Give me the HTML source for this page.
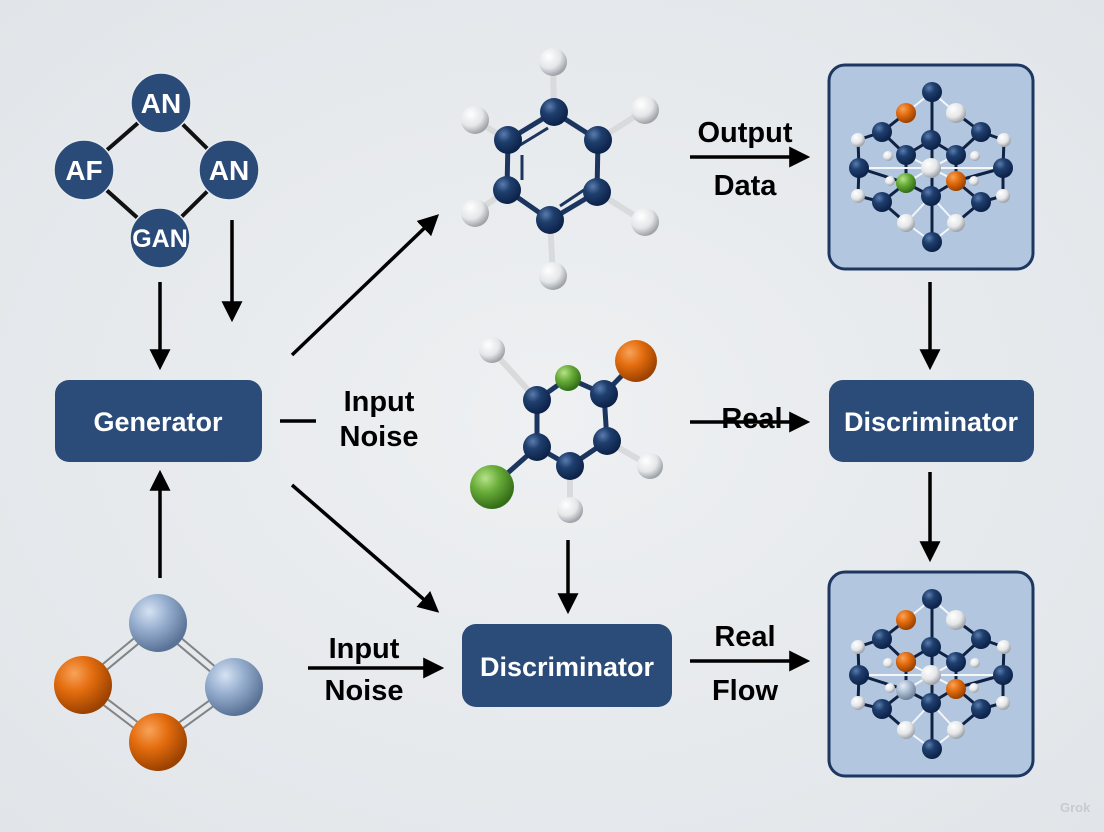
<!DOCTYPE html>
<html><head><meta charset="utf-8"><style>
html,body{margin:0;padding:0;width:1104px;height:832px;overflow:hidden;background:#e9ecef;}
svg{display:block}
text{font-family:"Liberation Sans",sans-serif;font-weight:bold;}
</style></head><body>
<svg width="1104" height="832" viewBox="0 0 1104 832" xmlns="http://www.w3.org/2000/svg">
<defs>
<radialGradient id="bg" cx="50%" cy="50%" r="70%"><stop offset="0" stop-color="#eef0f2"/><stop offset="1" stop-color="#e1e5e9"/></radialGradient>
<radialGradient id="gD" cx="35%" cy="30%" r="70%"><stop offset="0" stop-color="#5a7cae"/><stop offset="0.4" stop-color="#1f3f6e"/><stop offset="1" stop-color="#0c2248"/></radialGradient>
<radialGradient id="gW" cx="35%" cy="30%" r="70%"><stop offset="0" stop-color="#ffffff"/><stop offset="0.6" stop-color="#e4e6e8"/><stop offset="1" stop-color="#9ea3a8"/></radialGradient>
<radialGradient id="gO" cx="35%" cy="30%" r="70%"><stop offset="0" stop-color="#f7a35a"/><stop offset="0.45" stop-color="#e46d0f"/><stop offset="1" stop-color="#9c4200"/></radialGradient>
<radialGradient id="gG" cx="35%" cy="30%" r="70%"><stop offset="0" stop-color="#b6e28a"/><stop offset="0.45" stop-color="#6aae3a"/><stop offset="1" stop-color="#336d18"/></radialGradient>
<radialGradient id="gB" cx="35%" cy="30%" r="70%"><stop offset="0" stop-color="#d6e2f2"/><stop offset="0.45" stop-color="#98b0d0"/><stop offset="1" stop-color="#5a7296"/></radialGradient>
<radialGradient id="gS" cx="35%" cy="30%" r="70%"><stop offset="0" stop-color="#e6eef6"/><stop offset="0.5" stop-color="#a9bbcf"/><stop offset="1" stop-color="#6f8299"/></radialGradient>
<marker id="ah" viewBox="0 0 10 10" refX="8" refY="5" markerWidth="6" markerHeight="6" orient="auto" markerUnits="strokeWidth"><path d="M0,0 L10,5 L0,10 z" fill="#000"/></marker>
<g id="crys">
 <g stroke="#0f2244" stroke-width="3" fill="none">
  <line x1="1" y1="-75" x2="1" y2="75"/>
  <polyline points="-49,-35 -73,-27 -72,1 -73,29 -49,35"/>
  <polyline points="50,-35 73,-27 72,1 72,29 50,35"/>
  <line x1="-25" y1="-54" x2="-49" y2="-35"/><line x1="25" y1="-54" x2="50" y2="-35"/>
  <line x1="-49" y1="-35" x2="-25" y2="-12"/><line x1="50" y1="-35" x2="25" y2="-12"/>
  <line x1="0" y1="-27" x2="-25" y2="-12"/><line x1="0" y1="-27" x2="25" y2="-12"/>
  <line x1="-25" y1="-12" x2="-25" y2="16"/><line x1="25" y1="-12" x2="25" y2="14"/>
  <line x1="-72" y1="1" x2="-25" y2="16"/><line x1="72" y1="1" x2="25" y2="14"/>
  <line x1="-25" y1="16" x2="0" y2="29"/><line x1="25" y1="14" x2="0" y2="29"/>
  <line x1="-25" y1="16" x2="-49" y2="35"/><line x1="25" y1="14" x2="50" y2="35"/>
  <line x1="-49" y1="35" x2="-25" y2="56"/><line x1="50" y1="35" x2="25" y2="56"/>
 </g>
 <g stroke="#f4f6f8" stroke-width="2">
  <line x1="1" y1="-75" x2="-25" y2="-54"/><line x1="1" y1="-75" x2="25" y2="-54"/>
  <line x1="-25" y1="56" x2="1" y2="75"/><line x1="25" y1="56" x2="1" y2="75"/>
  <line x1="0" y1="1" x2="-25" y2="16"/><line x1="0" y1="1" x2="25" y2="14"/>
  <line x1="0" y1="1" x2="-25" y2="-12"/><line x1="0" y1="1" x2="25" y2="-12"/>
  <line x1="0" y1="1" x2="-72" y2="1"/><line x1="0" y1="1" x2="72" y2="1"/>
  <line x1="0" y1="29" x2="-25" y2="56"/><line x1="0" y1="29" x2="25" y2="56"/>
 </g>
 <circle cx="1" cy="-75" r="10" fill="url(#gD)"/>
 <circle cx="25" cy="-54" r="10" fill="url(#gW)"/>
 <circle cx="-49" cy="-35" r="10" fill="url(#gD)"/><circle cx="0" cy="-27" r="10" fill="url(#gD)"/><circle cx="50" cy="-35" r="10" fill="url(#gD)"/>
 <circle cx="-73" cy="-27" r="7" fill="url(#gW)"/><circle cx="73" cy="-27" r="7" fill="url(#gW)"/>
 <circle cx="-25" cy="-12" r="10" fill="url(#gD)"/><circle cx="25" cy="-12" r="10" fill="url(#gD)"/>
 <circle cx="-43" cy="-11" r="5" fill="url(#gW)"/><circle cx="44" cy="-11" r="5" fill="url(#gW)"/>
 <circle cx="-72" cy="1" r="10" fill="url(#gD)"/><circle cx="72" cy="1" r="10" fill="url(#gD)"/>
 <circle cx="0" cy="1" r="10" fill="url(#gW)"/>
 <circle cx="-41" cy="14" r="5" fill="url(#gW)"/><circle cx="43" cy="14" r="5" fill="url(#gW)"/>
 <circle cx="-73" cy="29" r="7" fill="url(#gW)"/><circle cx="72" cy="29" r="7" fill="url(#gW)"/>
 <circle cx="-49" cy="35" r="10" fill="url(#gD)"/><circle cx="0" cy="29" r="10" fill="url(#gD)"/><circle cx="50" cy="35" r="10" fill="url(#gD)"/>
 <circle cx="-25" cy="56" r="9" fill="url(#gW)"/><circle cx="25" cy="56" r="9" fill="url(#gW)"/>
 <circle cx="1" cy="75" r="10" fill="url(#gD)"/>
</g>
</defs>
<rect width="1104" height="832" fill="url(#bg)"/>

<g stroke="#111" stroke-width="4">
<line x1="161" y1="103" x2="84" y2="170"/><line x1="161" y1="103" x2="229" y2="170"/>
<line x1="84" y1="170" x2="160" y2="238"/><line x1="229" y1="170" x2="160" y2="238"/>
</g>
<g fill="#2a4a78" stroke="#e9ecef" stroke-width="1.5">
<circle cx="161" cy="103" r="30"/><circle cx="84" cy="170" r="30"/><circle cx="229" cy="170" r="30"/><circle cx="160" cy="238" r="30"/>
</g>
<g fill="#fff" text-anchor="middle" font-size="28">
<text x="161" y="113">AN</text><text x="84" y="180">AF</text><text x="229" y="180">AN</text><text x="160" y="247" font-size="25">GAN</text>
</g>

<g stroke="#000" stroke-width="3.5" fill="none" marker-end="url(#ah)">
<line x1="160" y1="282" x2="160" y2="366"/>
<line x1="232" y1="220" x2="232" y2="318"/>
<line x1="160" y1="578" x2="160" y2="474"/>
<line x1="292" y1="355" x2="436" y2="217"/>
<line x1="292" y1="485" x2="436" y2="610"/>
<line x1="690" y1="157" x2="806" y2="157"/>
<line x1="930" y1="282" x2="930" y2="366"/>
<line x1="690" y1="422" x2="806" y2="422"/>
<line x1="930" y1="472" x2="930" y2="558"/>
<line x1="568" y1="540" x2="568" y2="610"/>
<line x1="308" y1="668" x2="440" y2="668"/>
<line x1="690" y1="661" x2="806" y2="661"/>
</g>
<line x1="280" y1="421" x2="316" y2="421" stroke="#000" stroke-width="3.5"/>

<rect x="55" y="380" width="207" height="82" rx="14" fill="#2b4b79"/>
<text x="158" y="431" fill="#fff" font-size="27" text-anchor="middle">Generator</text>
<rect x="829" y="380" width="205" height="82" rx="14" fill="#2b4b79"/>
<text x="931" y="431" fill="#fff" font-size="27" text-anchor="middle">Discriminator</text>
<rect x="462" y="624" width="210" height="83" rx="14" fill="#2b4b79"/>
<text x="567" y="676" fill="#fff" font-size="27" text-anchor="middle">Discriminator</text>

<g fill="#000" font-size="29" text-anchor="middle">
<text x="379" y="411">Input</text><text x="379" y="446">Noise</text>
<text x="745" y="142">Output</text><text x="745" y="195">Data</text>
<text x="752" y="428">Real</text>
<text x="745" y="646">Real</text><text x="745" y="700">Flow</text>
<text x="364" y="658">Input</text><text x="364" y="700">Noise</text>
</g>

<rect x="829" y="65" width="204" height="204" rx="16" fill="#b3c6e0" stroke="#1d3761" stroke-width="3"/>
<use href="#crys" transform="translate(931,167)"/>
<circle cx="906" cy="113" r="10" fill="url(#gO)"/><circle cx="906" cy="183" r="10" fill="url(#gG)"/><circle cx="956" cy="181" r="10" fill="url(#gO)"/>
<rect x="829" y="572" width="204" height="204" rx="16" fill="#b3c6e0" stroke="#1d3761" stroke-width="3"/>
<use href="#crys" transform="translate(931,674)"/>
<circle cx="906" cy="620" r="10" fill="url(#gO)"/><circle cx="906" cy="662" r="10" fill="url(#gO)"/><circle cx="906" cy="690" r="10" fill="url(#gS)"/><circle cx="956" cy="689" r="10" fill="url(#gO)"/>

<g stroke="#d8dadc" stroke-width="6">
<line x1="554" y1="112" x2="553" y2="62"/><line x1="598" y1="140" x2="645" y2="110"/><line x1="597" y1="192" x2="645" y2="222"/>
<line x1="550" y1="220" x2="553" y2="276"/><line x1="507" y1="190" x2="475" y2="213"/><line x1="508" y1="140" x2="475" y2="120"/>
</g>
<g stroke="#1b355e" stroke-width="5" fill="none">
<polygon points="554,112 598,140 597,192 550,220 507,190 508,140"/>
</g>
<g stroke="#1b355e" stroke-width="3">
<line x1="522" y1="155" x2="522" y2="180"/><line x1="548" y1="128" x2="512" y2="150" /><line x1="560" y1="206" x2="590" y2="186"/>
</g>
<g>
<circle cx="553" cy="62" r="14" fill="url(#gW)"/><circle cx="645" cy="110" r="14" fill="url(#gW)"/><circle cx="645" cy="222" r="14" fill="url(#gW)"/>
<circle cx="553" cy="276" r="14" fill="url(#gW)"/><circle cx="475" cy="213" r="14" fill="url(#gW)"/><circle cx="475" cy="120" r="14" fill="url(#gW)"/>
<circle cx="554" cy="112" r="14" fill="url(#gD)"/><circle cx="598" cy="140" r="14" fill="url(#gD)"/><circle cx="597" cy="192" r="14" fill="url(#gD)"/>
<circle cx="550" cy="220" r="14" fill="url(#gD)"/><circle cx="507" cy="190" r="14" fill="url(#gD)"/><circle cx="508" cy="140" r="14" fill="url(#gD)"/>
</g>

<g stroke="#d8dadc" stroke-width="6">
<line x1="537" y1="400" x2="492" y2="350"/><line x1="607" y1="441" x2="650" y2="466"/><line x1="570" y1="466" x2="570" y2="510"/>
</g>
<g stroke="#1b355e" stroke-width="5" fill="none">
<polygon points="537,400 568,378 604,394 607,441 570,466 537,447"/>
<line x1="604" y1="394" x2="636" y2="361"/><line x1="537" y1="447" x2="492" y2="487"/>
</g>
<circle cx="492" cy="350" r="13" fill="url(#gW)"/><circle cx="650" cy="466" r="13" fill="url(#gW)"/><circle cx="570" cy="510" r="13" fill="url(#gW)"/>
<circle cx="636" cy="361" r="21" fill="url(#gO)"/><circle cx="492" cy="487" r="22" fill="url(#gG)"/>
<circle cx="568" cy="378" r="13" fill="url(#gG)"/>
<circle cx="537" cy="400" r="14" fill="url(#gD)"/><circle cx="604" cy="394" r="14" fill="url(#gD)"/><circle cx="607" cy="441" r="14" fill="url(#gD)"/>
<circle cx="570" cy="466" r="14" fill="url(#gD)"/><circle cx="537" cy="447" r="14" fill="url(#gD)"/>

<g stroke="#7f8488" stroke-width="9">
<line x1="158" y1="623" x2="83" y2="685"/><line x1="158" y1="623" x2="234" y2="687"/>
<line x1="83" y1="685" x2="158" y2="742"/><line x1="234" y1="687" x2="158" y2="742"/>
</g>
<g stroke="#e6e8ea" stroke-width="5">
<line x1="158" y1="623" x2="83" y2="685"/><line x1="158" y1="623" x2="234" y2="687"/>
<line x1="83" y1="685" x2="158" y2="742"/><line x1="234" y1="687" x2="158" y2="742"/>
</g>
<circle cx="158" cy="623" r="29" fill="url(#gB)"/><circle cx="234" cy="687" r="29" fill="url(#gB)"/>
<circle cx="83" cy="685" r="29" fill="url(#gO)"/><circle cx="158" cy="742" r="29" fill="url(#gO)"/>

<text x="1060" y="812" fill="#c8ccd0" font-size="13" font-weight="normal">Grok</text>
</svg>
</body></html>
